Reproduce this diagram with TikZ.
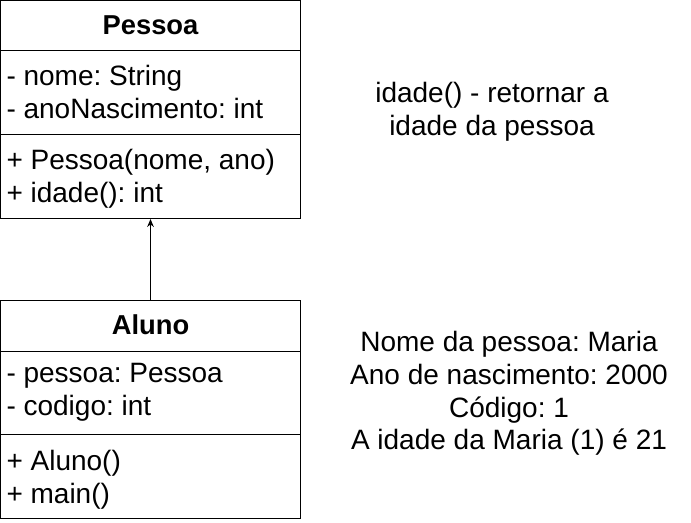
\documentclass[tikz,border=0pt]{standalone}
\usepackage{fontspec}
\setmainfont{Liberation Sans}
\usetikzlibrary{arrows.meta}
\frenchspacing

\tikzset{every picture/.style={line width=0.75pt}}
\tikzset{
  classbox/.style={draw, rectangle, minimum width=225pt, minimum height=163.5pt, inner sep=0pt},
  classname/.style={font=\fontsize{20.5}{24.5}\selectfont\bfseries},
  members/.style={anchor=west, align=left, inner sep=0pt, font=\fontsize{21}{24.75}\selectfont},
  note/.style={align=center, inner sep=0pt, font=\fontsize{21}{24.4}\selectfont}
}

\begin{document}
\begin{tikzpicture}[x=0.75pt,y=0.75pt,yscale=-1,xscale=1]
\path [use as bounding box] (0,0) rectangle (691,522);

% classe Pessoa
\node [classbox] (pessoa) at (150.5,109.5) {};
\draw (0.5,50.5) -- (300.5,50.5) ;
\draw (0.5,134.5) -- (300.5,134.5) ;
\node [classname] (pessoaNome) at (150.5,25) {Pessoa};
\node [members] (pessoaAtrib) at (6,91.5) {- nome: String\\- anoNascimento: int};
\node [members] (pessoaMetodos) at (6,178.5) {+ Pessoa(nome, ano)\\+ idade(): int};

% classe Aluno
\node [classbox] (aluno) at (150.5,409.5) {};
\draw (0.5,351.5) -- (300.5,351.5) ;
\draw (0.5,434.5) -- (300.5,434.5) ;
\node [classname] (alunoNome) at (150.5,325) {Aluno};
\node [members] (alunoAtrib) at (6,392) {- pessoa: Pessoa\\- codigo: int};
\node [members] (alunoMetodos) at (6,479.5) {+ Aluno()\\+ main()};

\draw [-{Stealth[length=6pt,width=5pt]}] (aluno.north) -- (pessoa.south) ;

% notas
\node [note] (notaIdade) at (492,112) {idade() - retornar a\\idade da pessoa};
\node [note] (notaSaida) at (509,393.5) {Nome da pessoa: Maria\\Ano de nascimento: 2000\\Código: 1\\A idade da Maria (1) é 21};

\end{tikzpicture}
\end{document}
